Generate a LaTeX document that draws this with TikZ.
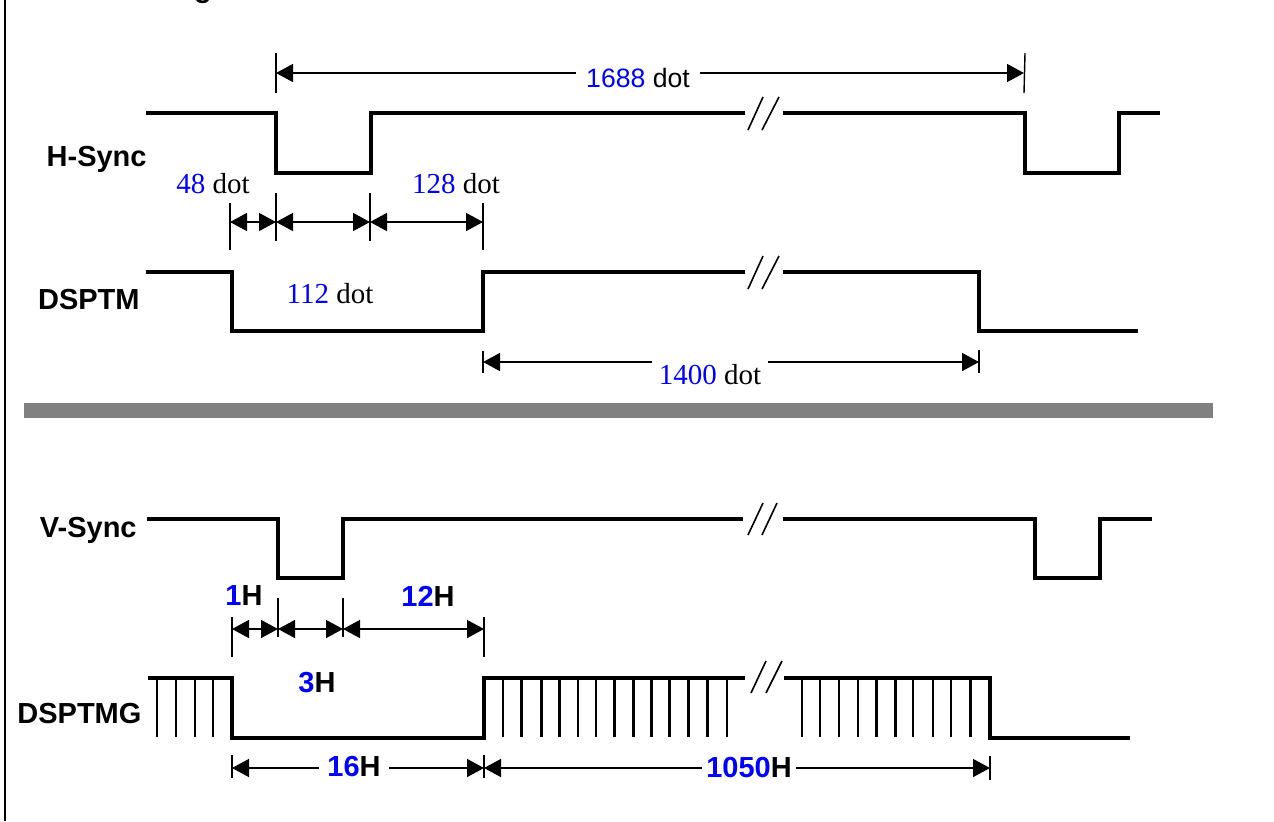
\documentclass[tikz,border=0pt]{standalone}
\usepackage{fontspec}
\setmainfont{Liberation Serif}
\setsansfont{Liberation Sans}
\usetikzlibrary{arrows.meta}
\definecolor{numblue}{RGB}{0,0,255}
\definecolor{bargray}{RGB}{128,128,128}
\begin{document}
\begin{tikzpicture}[x=0.5pt,y=-0.5pt,
  sig/.style={line width=2pt, line join=miter},
  vbar/.style={line width=1.4pt},
  tickline/.style={line width=0.7pt},
  brk/.style={line width=0.8pt},
  arr/.style={line width=0.7pt, -{Triangle[length=8.5pt,width=9pt]}},
  dimarr/.style={line width=0.7pt, {Triangle[length=8.5pt,width=9pt]}-{Triangle[length=8.5pt,width=9pt]}},
  lab/.style={font=\fontsize{14.5}{16}\selectfont\sffamily\bfseries, inner sep=0pt},
  dotlab/.style={font=\fontsize{14.5}{16}\selectfont\rmfamily, inner ysep=0pt, inner xsep=5pt},
  sdotlab/.style={font=\fontsize{13.3}{15}\selectfont\sffamily, inner ysep=0pt, inner xsep=5pt},
  hlab/.style={font=\fontsize{14.5}{16}\selectfont\sffamily\bfseries, inner ysep=0pt, inner xsep=4pt},
]
\useasboundingbox (0,0) rectangle (1274,821);

% left border line
\draw[line width=1.4pt] (5,0) -- (5,821);
% clipped title fragment
\node[lab, anchor=base] (title) at (203,-3) {g};

% ---------------- H-Sync ----------------
\node[lab, anchor=east] (hsync) at (147,159) {H-Sync};
\draw[sig] (146,113) -- (276,113) -- (276,173) -- (371,173) -- (371,113) -- (745,113);
\draw[sig] (783,113) -- (1025,113) -- (1025,173) -- (1119,173) -- (1119,113) -- (1160,113);
\draw[brk] (748,130) -- (763,97);
\draw[brk] (762,130) -- (779,97);

% 1688 dot
\coordinate (a1) at (276,73);
\coordinate (a2) at (1024,73);
\draw[tickline] (276,53) -- (276,93);
\draw[tickline] (1025,53) -- (1024,93);
\node[sdotlab] (l1688) at (638,78) {\textcolor{numblue}{1688} dot};
\draw[arr] (l1688.west |- a1) -- (a1);
\draw[arr] (l1688.east |- a2) -- (a2);

% 48 / 112 / 128 dot
\coordinate (h0) at (230,222);
\coordinate (h1) at (276,222);
\coordinate (h2) at (370,222);
\coordinate (h3) at (483,222);
\draw[tickline] (230,203) -- (230,250);
\draw[tickline] (276,193) -- (276,241);
\draw[tickline] (370,193) -- (370,241);
\draw[tickline] (483,203) -- (483,250);
\draw[dimarr] (h0) -- (h1);
\draw[dimarr] (h1) -- (h2);
\draw[dimarr] (h2) -- (h3);
\node[dotlab, inner xsep=0pt] (l48) at (213,184) {\textcolor{numblue}{48} dot};
\node[dotlab, inner xsep=0pt] (l128) at (456,184) {\textcolor{numblue}{128} dot};
\node[dotlab, inner xsep=0pt] (l112) at (330,294) {\textcolor{numblue}{112} dot};

% ---------------- DSPTM ----------------
\node[lab, anchor=east] (dsptm) at (140,300) {DSPTM};
\draw[sig] (146,272) -- (232,272) -- (232,331) -- (483,331) -- (483,272) -- (745,272);
\draw[sig] (783,272) -- (979,272) -- (979,331) -- (1138,331);
\draw[brk] (748,289) -- (763,256);
\draw[brk] (762,289) -- (779,256);

% 1400 dot
\coordinate (b1) at (483,362);
\coordinate (b2) at (979,362);
\draw[tickline] (483,351) -- (483,373);
\draw[tickline] (979,350) -- (979,373);
\node[dotlab, inner xsep=3pt] (l1400) at (710,375) {\textcolor{numblue}{1400} dot};
\draw[arr] (l1400.west |- b1) -- (b1);
\draw[arr] (l1400.east |- b2) -- (b2);

% separator bar
\fill[bargray] (24,403) rectangle (1213,418);

% ---------------- V-Sync ----------------
\node[lab, anchor=east] (vsync) at (137,530) {V-Sync};
\draw[sig] (147,519) -- (278,519) -- (278,578) -- (343,578) -- (343,519) -- (743,519);
\draw[sig] (783,519) -- (1035,519) -- (1035,578) -- (1100,578) -- (1100,519) -- (1152,519);
\draw[brk] (748,535) -- (763,503);
\draw[brk] (762,535) -- (777,503);

% 1H / 3H / 12H
\coordinate (v0) at (232,629);
\coordinate (v1) at (278,629);
\coordinate (v2) at (343,629);
\coordinate (v3) at (484,629);
\draw[tickline] (232,617) -- (232,657);
\draw[tickline] (278,598) -- (278,637);
\draw[tickline] (343,598) -- (343,637);
\draw[tickline] (484,617) -- (484,657);
\draw[dimarr] (v0) -- (v1);
\draw[dimarr] (v1) -- (v2);
\draw[dimarr] (v2) -- (v3);
\node[lab] (l1H) at (244,596) {\textcolor{numblue}{1}H};
\node[lab] (l12H) at (428,596) {\textcolor{numblue}{12}H};
\node[lab] (l3H) at (317,683) {\textcolor{numblue}{3}H};

% ---------------- DSPTMG ----------------
\node[lab, anchor=west] (dsptmg) at (17,713) {DSPTMG};
\draw[sig] (148,678) -- (232,678) -- (232,738) -- (484,738) -- (484,678) -- (745,678);
\draw[sig] (784,678) -- (990,678) -- (990,738) -- (1130,738);
\foreach \xx in {157,176,195,213,
  503,521.6,541.7,559.6,578,596,614.8,633.8,651.8,669.7,688.7,707.3,727,
  802,820,839,858,876.5,895.5,913,933,951,970.8}
  \draw[vbar] (\xx,678) -- (\xx,737);
\draw[brk] (751,693) -- (766,661);
\draw[brk] (766,693) -- (782,661);

% 16H / 1050H
\coordinate (g0) at (232,768);
\coordinate (g1) at (484,768);
\coordinate (g2) at (990,768);
\draw[tickline] (232,755) -- (232,778);
\draw[tickline] (484,755) -- (484,778);
\draw[tickline] (990,756) -- (990,780);
\node[hlab] (l16H) at (354,766) {\textcolor{numblue}{16}H};
\node[hlab, inner xsep=2pt] (l1050H) at (749,767) {\textcolor{numblue}{1050}H};
\draw[arr] (l16H.west |- g0) -- (g0);
\draw[arr] (l16H.east |- g1) -- (g1);
\draw[arr] (l1050H.west |- g1) -- (g1);
\draw[arr] (l1050H.east |- g2) -- (g2);
\end{tikzpicture}
\end{document}
